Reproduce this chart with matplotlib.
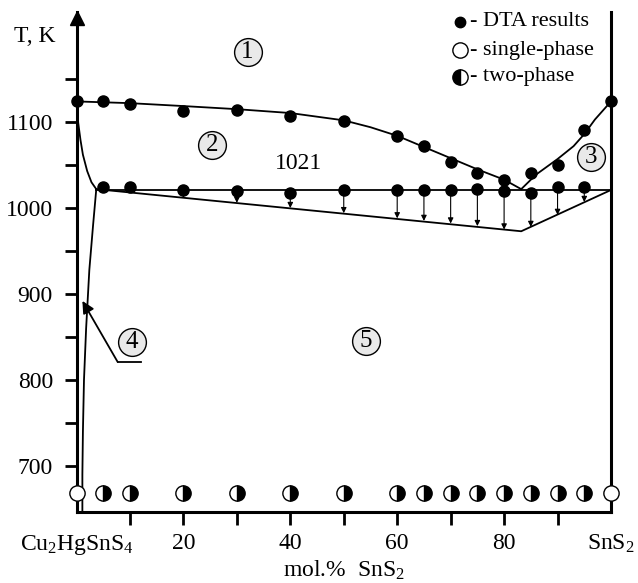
import matplotlib
matplotlib.use("Agg")
import matplotlib.pyplot as plt
from matplotlib.lines import Line2D

plt.rcParams['font.family'] = 'Liberation Serif'
plt.rcParams['mathtext.fontset'] = 'custom'
plt.rcParams['mathtext.rm'] = 'Liberation Serif'
plt.rcParams['mathtext.it'] = 'Liberation Serif:italic'

# DTA points (upper row = liquidus, lower row = 1021 K invariant)
dta_x = [0, 5, 10, 20, 30, 40, 50, 60, 65, 70, 75, 80, 85, 90, 95, 100]
dta_liq = [1124, 1124, 1121, 1113, 1114, 1107, 1101, 1084, 1072, 1053, 1041, 1033, 1041, 1050, 1091, 1124]
inv_x = [5, 10, 20, 30, 40, 50, 60, 65, 70, 75, 80, 85, 90, 95]
inv_T = [1025, 1024, 1021, 1020, 1018, 1021, 1021, 1021, 1021, 1022, 1020, 1018, 1024, 1025]
T_inv = 1021

# phase boundaries
liq_left_x = [0, 5, 10, 20, 30, 40, 50, 55, 60, 65, 70, 75, 80, 83.2]
liq_left_T = [1124, 1123, 1122, 1118.6, 1115, 1110.5, 1102, 1094, 1084, 1071, 1058, 1045, 1033, 1022]
liq_right_x = [83.2, 86, 90, 93, 95, 97, 100]
liq_right_T = [1022, 1039, 1057, 1072, 1086, 1103, 1124]
drop_x = [0, 0.3, 0.75, 1.2, 2, 2.8, 3.7]
drop_T = [1116, 1100, 1079, 1062, 1043, 1030, 1022]
solv_x = [3.7, 3.1, 2.4, 1.8, 1.4, 1.2, 1.1, 1.1]
solv_T = [1022, 980, 928, 860, 800, 740, 690, 647]
slope_x = [3.7, 83.2, 100]
slope_T = [1022, 973, 1021]

# arrows from invariant line down to lower boundary
arrow_x = [20, 30, 40, 50, 60, 65, 70, 75, 80, 85, 90, 95]
arrow_end = [1012, 1006, 1000, 994, 988, 985, 982, 979, 975, 978, 992, 1007]

# XRD samples
single_x = [0, 100]
two_x = [5, 10, 20, 30, 40, 50, 60, 65, 70, 75, 80, 85, 90, 95]
xrd_T = 668.6

# field labels
field_num = ['1', '2', '3', '4', '5']
field_x = [32, 25.4, 96.3, 10.3, 54.2]
field_T = [1181, 1073, 1059, 844, 845]

fig = plt.figure(figsize=(6.38, 5.83), dpi=100)
ax = fig.add_axes([76.5 / 638, 1 - 512 / 583, (611 - 76.5) / 638, 500 / 583])
ax.set_xlim(0, 100)
ax.set_ylim(646.5, 1228)

lw = 1.3
ax.plot(liq_left_x, liq_left_T, color='k', lw=lw)
ax.plot(liq_right_x, liq_right_T, color='k', lw=lw)
ax.plot(drop_x, drop_T, color='k', lw=lw)
ax.plot(solv_x, solv_T, color='k', lw=lw)
ax.plot(slope_x, slope_T, color='k', lw=lw)
ax.plot([3.7, 100], [T_inv, T_inv], color='k', lw=lw)

for x, e in zip(arrow_x, arrow_end):
    ax.annotate('', xy=(x, e), xytext=(x, T_inv),
                arrowprops=dict(arrowstyle='-|>', lw=0.8, color='k',
                                mutation_scale=8, shrinkA=0, shrinkB=0))

ax.plot(dta_x, dta_liq, 'o', color='k', ms=8, clip_on=False, zorder=5)
ax.plot(inv_x, inv_T, 'o', color='k', ms=8, zorder=5)

ax.plot(single_x, [xrd_T] * len(single_x), 'o', mfc='white', mec='k', mew=1.0,
        ms=11, clip_on=False, zorder=6)
ax.plot(two_x, [xrd_T] * len(two_x), 'o', fillstyle='right', mfc='k',
        markerfacecoloralt='white', mec='k', mew=1.0, ms=11, zorder=6)

for n, x, t in zip(field_num, field_x, field_T):
    ax.plot(x, t, 'o', ms=20, mfc='#e9e9e9', mec='k', mew=1.0, zorder=4)
    ax.text(x, t, n, ha='center', va='center', fontsize=18, zorder=5)

# pointer to field 4
ax.plot([12, 7.7], [821, 821], color='k', lw=lw)
ax.annotate('', xy=(1.1, 892), xytext=(7.7, 821),
            arrowprops=dict(arrowstyle='-|>', lw=lw, color='k',
                            mutation_scale=18, shrinkA=0, shrinkB=0))

ax.text(41.5, 1052, '1021', ha='center', va='center', fontsize=17)

# axes
ax.spines['top'].set_visible(False)
for s in ['left', 'right', 'bottom']:
    ax.spines[s].set_linewidth(2.2)
ax.plot(0, 1221, marker='^', color='k', ms=10.5, clip_on=False, zorder=7)

ax.set_yticks([700, 800, 900, 1000, 1100])
ax.set_yticks([750, 850, 950, 1050, 1150], minor=True)
ax.tick_params(axis='y', which='both', direction='out', length=9, width=2,
               labelsize=17, pad=8)

ax.set_xticks(range(0, 101, 10))
ax.set_xticklabels(['Cu$_2$HgSnS$_4$', '', '20', '', '40', '', '60', '', '80', '', 'SnS$_2$'])
ax.tick_params(axis='x', direction='out', length=9, width=2, labelsize=17, pad=6)
xt = ax.xaxis.get_major_ticks()
xt[0].tick1line.set_visible(False)
xt[-1].tick1line.set_visible(False)
ax.set_xlabel('mol.%  SnS$_2$', fontsize=17, labelpad=1)

fig.text(35 / 638, 1 - 37 / 583, 'T, K', ha='center', va='center', fontsize=17)

# legend
leg_y = [22, 50, 77]
leg_txt = ['- DTA results', '- single-phase', '- two-phase']
fig.add_artist(Line2D([460 / 638], [1 - leg_y[0] / 583], marker='o', color='k', ms=7.5,
                      transform=fig.transFigure))
fig.add_artist(Line2D([460 / 638], [1 - leg_y[1] / 583], marker='o', mfc='white', mec='k',
                      ms=11, mew=1.0, transform=fig.transFigure))
fig.add_artist(Line2D([460 / 638], [1 - leg_y[2] / 583], marker='o', fillstyle='left', mfc='k',
                      markerfacecoloralt='white', mec='k', ms=11, mew=1.0,
                      transform=fig.transFigure))
for y, t in zip(leg_y, leg_txt):
    fig.text(470 / 638, 1 - y / 583, t, ha='left', va='center', fontsize=16)

fig.savefig('out.png', dpi=100)
